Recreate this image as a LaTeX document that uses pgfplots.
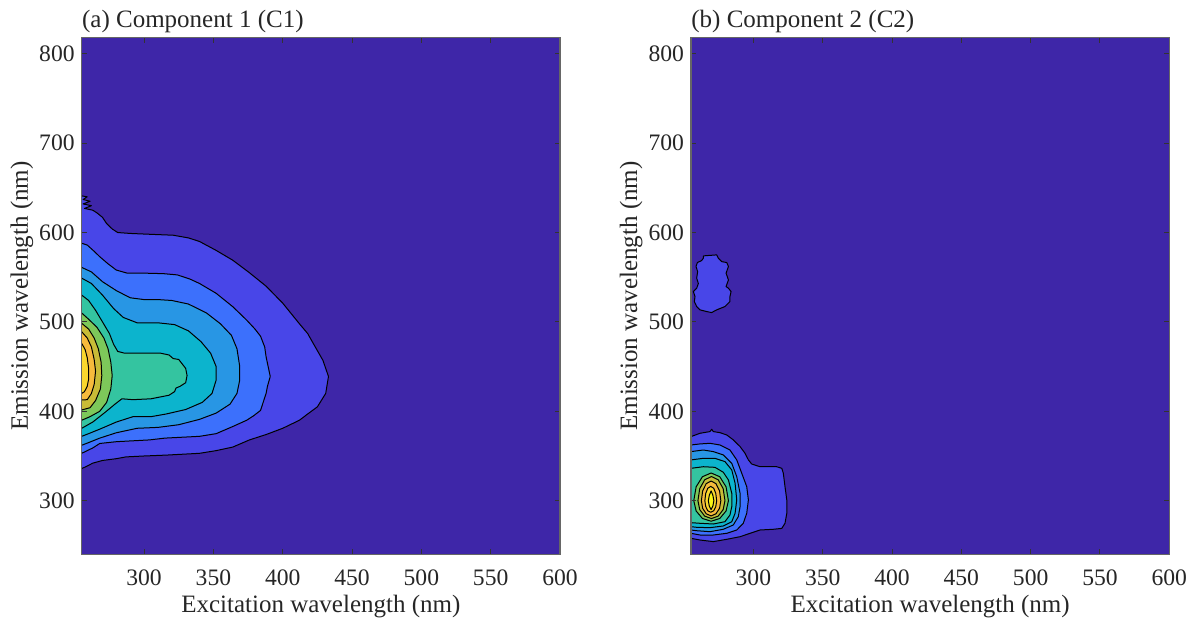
\documentclass[border=0pt]{standalone}
\usepackage{fontspec}
\setmainfont{Liberation Serif}
\usepackage{pgfplots}
\pgfplotsset{compat=1.18}

\definecolor{bg}{RGB}{62,38,168}
\definecolor{c1}{RGB}{72,70,232}
\definecolor{c2}{RGB}{60,112,252}
\definecolor{c3}{RGB}{40,150,228}
\definecolor{c4}{RGB}{12,180,205}
\definecolor{c5}{RGB}{52,196,160}
\definecolor{c6}{RGB}{125,200,90}
\definecolor{c7}{RGB}{200,188,55}
\definecolor{c8}{RGB}{246,186,60}
\definecolor{c9}{RGB}{250,215,45}
\definecolor{c10}{RGB}{249,245,20}
\definecolor{txt}{RGB}{38,38,38}

\pgfplotsset{eem/.style={
  scale only axis, width=239.15pt, height=258.3pt,
  xmin=255, xmax=600, ymin=240, ymax=818,
  xtick={300,350,...,600}, ytick={300,400,...,800},
  tick align=inside, xtick pos=both, ytick pos=both,
  xticklabel pos=bottom, yticklabel pos=left,
  major tick length=2.5pt,
  axis on top,
  axis background/.style={fill=bg},
  axis line style={black!60, line width=0.6pt},
  tick style={black!80, line width=0.5pt},
  /pgf/number format/assume math mode=true,
  /pgf/number format/set thousands separator={},
  tick label style={font=\fontsize{11.8}{13}\selectfont, text=txt},
  label style={font=\fontsize{12.5}{14}\selectfont, text=txt},
  xlabel={Excitation wavelength (nm)},
  ylabel={Emission wavelength (nm)},
  xlabel style={at={(axis description cs:0.5,-0.102)}, anchor=center},
  ylabel style={at={(axis description cs:-0.125,0.5)}, anchor=center},
  xticklabel style={yshift=-4pt},
  every axis title shift=0pt,
  title style={at={(axis description cs:0,1.019)}, anchor=base west, inner sep=0pt, yshift=0pt, font=\fontsize{12.5}{14}\selectfont, text=txt},
  no markers,
  every axis plot/.append style={draw=black, line width=0.5pt, line join=round},
}}

\begin{document}
\begin{tikzpicture}
\useasboundingbox (-40.85pt,-34.35pt) rectangle (556.65pt,277.15pt);

% ---------------- Panel (a) ----------------
\begin{axis}[eem, at={(0pt,0pt)}, title={(a) Component 1 (C1)}]
\addplot[fill=c1] coordinates {(250,641) (255,641) (259,640) (256,637) (261,635) (256,632) (262,630) (257,627) (263,625) (266,622) (270,617) (273,610) (277,604) (281,600) (290,599) (305,598) (321,597) (332,594) (340,590) (352,580) (364,569) (376,555) (388,540) (400,521) (412,498) (418,487) (422,476) (429,457) (433,439) (431,420) (425,405) (418,397) (412,390) (400,381) (388,374) (376,368) (364,360) (352,356) (340,353) (316,351) (300,350) (287,349) (280,347) (270,345) (263,342) (258,338) (255,336) (250,336)};
\addplot[fill=c2] coordinates {(250,588) (255,588) (259,586) (264,579) (268,573) (274,565) (280,558) (288,554.5) (302,554.5) (314,554) (324,552.6) (333,548) (340,543) (352,532) (364,517) (374,502) (380,492) (384,484) (387,472) (388,461) (391,439) (389,428) (388,420) (384,401) (379,395) (374,390) (364,383) (352,375) (340,372) (315,370) (304,368) (292,367) (280,366) (268,364) (263,359) (255,353) (250,353)};
\addplot[fill=c3] coordinates {(250,561) (255,561) (262,556) (270,545) (280,535) (290,527) (300,525) (310,525) (320,524) (332,520) (345,510) (355,498) (363,485) (367,470) (369,450) (369,435) (367,420) (362,408) (352,398) (340,391) (325,385) (310,382) (295,381) (280,376) (268,370) (260,365) (255,362) (250,362)};
\addplot[fill=c4] coordinates {(250,549) (255,549) (262,543) (270,530) (278,515) (285,505) (295,499) (310,499) (322,497) (332,490) (341,478) (348,465) (352,450) (352,435) (349,420) (342,410) (330,402) (316,397) (305,394) (292,394) (280,388) (268,380) (260,375) (255,372) (250,372)};
\addplot[fill=c5] coordinates {(250,530) (255,530) (260,524) (265,513) (270,500) (275,487) (278,475) (281,467) (286,465) (300,465) (312,465) (318,463) (321,459) (325,458) (327,454) (330,448) (331,440) (330,432) (326,428) (323,426) (322,422) (318,418) (305,414) (292,413) (284,414) (279,408) (272,399) (263,388) (255,381) (250,381)};
\addplot[fill=c6] coordinates {(250,510) (255,510) (260,503) (266,494) (271,482) (274,470) (276,455) (277,440) (276,425) (273,410) (268,400) (261,394) (255,390) (250,390)};
\addplot[fill=c7] coordinates {(250,498.5) (255,498.5) (260,492) (264,482) (267,470) (269,455) (269.5,440) (268.5,425) (265,412) (261,404) (255,401.5) (250,401.5)};
\addplot[fill=c8] coordinates {(250,489) (255,489) (259,482) (262,472) (264,458) (265,445) (264,430) (262,420) (259,413) (255,412.7) (250,412.7)};
\addplot[fill=c9] coordinates {(250,476) (255,476) (257.5,469) (259,460) (260,448) (260,436) (259,428) (257,422) (255,420) (250,420)};
\end{axis}

% ---------------- Panel (b) ----------------
\begin{axis}[eem, at={(304.65pt,0pt)}, title={(b) Component 2 (C2)}]
% upper small blob
\addplot[fill=c1] coordinates {(263.9,573.9) (273.5,575) (274.7,571.3) (277.1,567.5) (280.8,566.4) (282,562) (280.3,554.5) (282,547) (280.3,539.6) (282,537.7) (283.9,534) (283.1,528.4) (283.1,522.8) (279.5,517.2) (273.5,513.5) (269.9,510.5) (266.3,511.6) (261.5,513.5) (259.1,517.2) (257.4,522.8) (257.9,528.4) (256.7,534) (259.1,537.7) (260.3,543) (259.1,549) (259.8,556.3) (258.6,562) (259.6,566.4) (262.7,568.7) (263.9,571.3) (263.9,573.9)};
% main peak
\addplot[fill=c1] coordinates {(250,371.7) (255,371.7) (261.5,375.4) (268.7,377.3) (269.9,379.9) (271.1,377.3) (275.9,376.1) (280.8,373.5) (285.5,368) (290.4,360.5) (294,353) (296.4,345.6) (298.8,341) (304.8,338) (316.8,338) (320.5,336.2) (321.6,330.7) (322.8,315.7) (324.1,300.8) (324.1,285.9) (322.8,274.7) (320.5,269) (314.4,268) (304.8,267.2) (297.6,263.5) (290.4,259.7) (280.8,256.8) (271.1,254.2) (261.5,256) (255,257.9) (250,257.9)};
\addplot[fill=c2] coordinates {(250,362.3) (255,362.3) (261.5,363.5) (268.7,364.2) (275.9,362.3) (283.1,356.7) (288,345.6) (291.6,330.7) (295.2,315.7) (296.4,300.8) (295.2,285.9) (292.7,274.7) (288,267.2) (280.8,263.5) (271.1,261.6) (261.5,261.6) (255,263.5) (250,263.5)};
\addplot[fill=c3] coordinates {(250,354.9) (255,354.9) (263.9,356.7) (271.1,354.9) (278.3,351.2) (284.4,341.8) (288,326.9) (290.4,308.3) (290.4,293.3) (289.1,282.1) (285.5,272.8) (278.3,268) (268.7,265.3) (259.1,266.4) (255,267.2) (250,267.2)};
\addplot[fill=c4] coordinates {(250,345.6) (255,345.6) (263.9,347.4) (272.3,347.4) (279.5,343.7) (284.4,334.4) (286.8,319.5) (288,300.8) (286.8,285.9) (284.4,276.5) (278.3,271.7) (268.7,269.8) (259.1,270.2) (255,270.9) (250,270.9)};
\addplot[fill=c5] coordinates {(250,336.2) (255,336.2) (263.9,338) (272.3,337.3) (278.3,331.8) (282,323.2) (284.4,308.3) (284.4,293.3) (283.1,284) (279.5,276.5) (271.1,273.9) (261.5,274.7) (255,275.4) (250,275.4)};
\addplot[fill=c6] coordinates {(282,300) (280.3,315.5) (275.75,326.8) (269.5,331) (263.25,326.8) (258.7,315.5) (257,300) (258.7,288.5) (263.25,280.1) (269.5,277) (275.75,280.1) (280.3,288.5) (282,300)};
\addplot[fill=c7] coordinates {(279.5,300) (278.2,313.5) (274.6,323.4) (269.75,327) (264.9,323.4) (261.3,313.5) (260,300) (261.3,290) (264.9,282.7) (269.75,280) (274.6,282.7) (278.2,290) (279.5,300)};
\addplot[fill=c8] coordinates {(276.5,300) (275.6,311) (273,319.1) (269.5,322) (266,319.1) (263.4,311) (262.5,300) (263.4,291.5) (266,285.3) (269.5,283) (273,285.3) (275.6,291.5) (276.5,300)};
\addplot[fill=c9] coordinates {(273.5,300) (272.9,308) (271.4,313.9) (269.25,316) (267.1,313.9) (265.6,308) (265,300) (265.6,293.5) (267.1,288.7) (269.25,287) (271.4,288.7) (272.9,293.5) (273.5,300)};
\addplot[fill=c10] coordinates {(271.5,300) (270.8,306) (269.5,311) (268.2,306) (267.5,300) (268.2,294) (269.5,290) (270.8,294) (271.5,300)};
\end{axis}
\end{tikzpicture}
\end{document}
